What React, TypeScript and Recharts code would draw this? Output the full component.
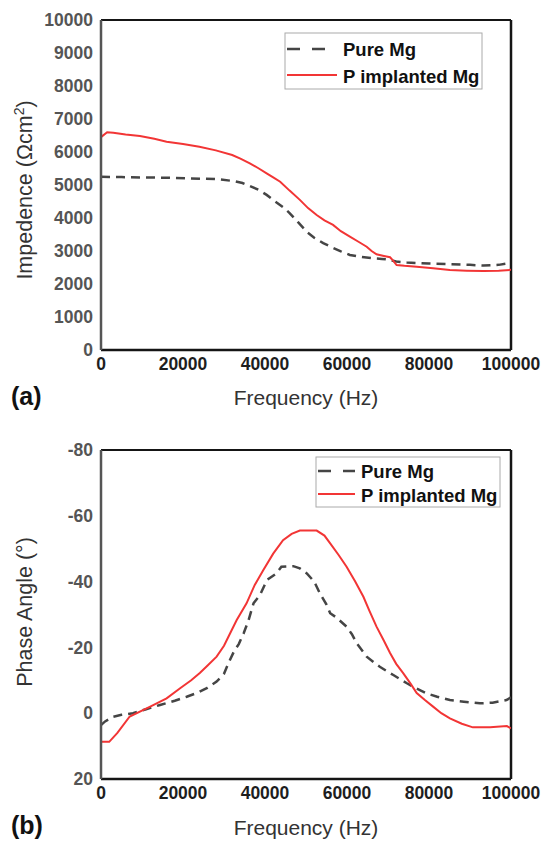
import React from 'react';
import { LineChart, Line, XAxis, YAxis, ReferenceLine } from 'recharts';

const FONT = "'Liberation Sans', Arial, sans-serif";
const RED = '#f23535';
const GRAY = '#454545';

const xTicks = [0, 20000, 40000, 60000, 80000, 100000];
const impTicks = [0, 1000, 2000, 3000, 4000, 5000, 6000, 7000, 8000, 9000, 10000];
const phaseTicks = [-80, -60, -40, -20, 0, 20];

const seriesNames = ['Pure Mg', 'P implanted Mg'];

// (a) Impedance vs frequency
const impFreqPure = [0, 5000, 10000, 16000, 22000, 28200, 32300, 34500, 36300, 38500, 40400, 42500, 44400, 46000, 48000, 50200, 52000, 54200, 56500, 58500, 60700, 63500, 66300, 68500, 70000, 72000, 74600, 80000, 85100, 90000, 93300, 97000, 100000];
const impPure = [5250, 5240, 5230, 5220, 5200, 5180, 5120, 5060, 4970, 4850, 4700, 4500, 4330, 4150, 3880, 3580, 3400, 3240, 3100, 2990, 2880, 2820, 2780, 2760, 2740, 2680, 2650, 2620, 2600, 2580, 2560, 2580, 2640];

const impFreqImpl = [0, 1500, 3000, 6000, 9500, 13000, 16000, 20000, 24000, 28000, 32000, 34000, 36300, 38500, 40400, 42000, 43700, 46000, 48500, 50500, 52600, 54500, 56600, 58500, 60700, 62800, 64800, 66000, 67200, 69000, 70500, 71300, 72100, 74000, 77000, 81000, 85100, 89200, 93300, 97000, 100000];
const impImpl = [6450, 6600, 6580, 6530, 6485, 6400, 6313, 6240, 6160, 6050, 5910, 5800, 5657, 5500, 5354, 5230, 5100, 4830, 4550, 4300, 4090, 3930, 3790, 3600, 3435, 3280, 3130, 3000, 2900, 2850, 2810, 2700, 2575, 2550, 2525, 2475, 2424, 2405, 2394, 2400, 2430];

// (b) Phase angle vs frequency
const phFreqPure = [0, 1000, 3000, 5000, 7800, 11000, 14400, 18000, 20900, 23500, 25800, 28200, 30000, 31000, 32400, 33600, 34800, 36000, 37200, 38800, 40500, 42800, 44000, 46900, 48500, 50200, 52000, 53400, 55000, 55900, 57500, 59900, 61200, 62400, 64800, 66500, 68000, 71300, 74600, 77000, 79500, 82000, 85100, 88500, 92400, 95500, 98900, 100000];
const phPure = [3.6, 2.5, 1.1, 0.5, 0, -1.2, -2.5, -3.8, -5, -6.2, -7.6, -9.6, -12, -15, -18.7, -21, -24.3, -28.3, -33.4, -36, -40.5, -42.5, -44.5, -44.7, -44, -42.5, -40, -36.4, -33, -30.4, -29, -26.3, -24, -21.2, -17.2, -15.5, -14.1, -11.6, -9.1, -7.5, -6, -5, -4, -3.5, -3, -3.2, -4, -4.8];

const phFreqImpl = [0, 2000, 4000, 7000, 12000, 16000, 19300, 22000, 24100, 26000, 28200, 30000, 31500, 33100, 35500, 37500, 39600, 42000, 44400, 46500, 48500, 52600, 54500, 55900, 58000, 59900, 62000, 64000, 65500, 67200, 69000, 70500, 72000, 73700, 75500, 77000, 79000, 81000, 83000, 85100, 88000, 90700, 94900, 99000, 100000];
const phImpl = [8.7, 8.7, 6, 1, -2, -4.5, -7.6, -10, -12.2, -14.5, -17.2, -20.5, -24.3, -28.3, -33.4, -39, -43.5, -48.5, -52.6, -54.5, -55.5, -55.5, -54, -51.6, -48, -44.5, -40, -35.4, -31, -26.3, -22, -18.3, -15, -12.2, -9, -6.1, -4, -2, 0, 1.6, 3.2, 4.3, 4.3, 3.9, 4.6];

const zip = (xs: number[], ys: number[]) => xs.map((f, i) => ({ f, v: ys[i] }));

const yTickStyle = { fontFamily: FONT, fontSize: 17.5, fontWeight: 700, fill: '#555' };
const xTickStyle = { fontFamily: FONT, fontSize: 17.5, fontWeight: 700, fill: '#1e1e1e' };

function LegendBox({ x, y, w, h, row1, row2, lineW }: { x: number; y: number; w: number; h: number; row1: number; row2: number; lineW: number }) {
  return (
    <g>
      <rect x={x} y={y} width={w} height={h} fill="#fff" stroke="#aaa" strokeWidth={1} />
      <line x1={x + 2} x2={x + 2 + lineW} y1={row1 - 7} y2={row1 - 7} stroke={GRAY} strokeWidth={2.5} strokeDasharray="13 12" />
      <text x={x + 2 + lineW + 6} y={row1} fontFamily={FONT} fontSize={18.5} fontWeight={700} fill="#111">{seriesNames[0]}</text>
      <line x1={x + 2} x2={x + 2 + lineW} y1={row2 - 8} y2={row2 - 8} stroke={RED} strokeWidth={2} />
      <text x={x + 2 + lineW + 6} y={row2} fontFamily={FONT} fontSize={18.5} fontWeight={700} fill="#111">{seriesNames[1]}</text>
    </g>
  );
}

export default function App() {
  return (
    <div style={{ position: 'absolute', left: 0, top: 0, width: 543, height: 841, background: '#fff' }}>
      <div style={{ position: 'absolute', left: 0, top: 0 }}>
        <LineChart width={543} height={420} margin={{ top: 20, right: 32, bottom: 40, left: 0 }}>
          <XAxis dataKey="f" type="number" domain={[0, 100000]} ticks={xTicks} interval={0} tickLine={false}
            axisLine={{ stroke: '#151515', strokeWidth: 2.5 }} tick={xTickStyle} height={30} allowDataOverflow />
          <YAxis type="number" domain={[0, 10000]} ticks={impTicks} interval={0} tickLine={false}
            axisLine={{ stroke: '#555', strokeWidth: 2.5 }} tick={yTickStyle} width={101} allowDataOverflow />
          <ReferenceLine y={10000} stroke="#151515" strokeWidth={2} />
          <ReferenceLine x={100000} stroke="#151515" strokeWidth={2.5} />
          <Line data={zip(impFreqPure, impPure)} dataKey="v" type="linear" stroke={GRAY} strokeWidth={2.5}
            strokeDasharray="9 6" dot={false} isAnimationActive={false} name={seriesNames[0]} />
          <Line data={zip(impFreqImpl, impImpl)} dataKey="v" type="linear" stroke={RED} strokeWidth={2}
            dot={false} isAnimationActive={false} name={seriesNames[1]} />
        </LineChart>
      </div>
      <div style={{ position: 'absolute', left: 0, top: 430 }}>
        <LineChart width={543} height={411} margin={{ top: 20, right: 32, bottom: 32, left: 0 }}>
          <XAxis dataKey="f" type="number" domain={[0, 100000]} ticks={xTicks} interval={0} tickLine={false}
            axisLine={{ stroke: '#151515', strokeWidth: 2.5 }} tick={xTickStyle} height={30} allowDataOverflow />
          <YAxis type="number" domain={[-80, 20]} reversed ticks={phaseTicks} interval={0} tickLine={false}
            axisLine={{ stroke: '#555', strokeWidth: 2.5 }} tick={yTickStyle} width={101} allowDataOverflow />
          <ReferenceLine y={-80} stroke="#151515" strokeWidth={2} />
          <ReferenceLine x={100000} stroke="#151515" strokeWidth={2.5} />
          <Line data={zip(phFreqPure, phPure)} dataKey="v" type="linear" stroke={GRAY} strokeWidth={2.5}
            strokeDasharray="9 6" dot={false} isAnimationActive={false} name={seriesNames[0]} />
          <Line data={zip(phFreqImpl, phImpl)} dataKey="v" type="linear" stroke={RED} strokeWidth={2}
            dot={false} isAnimationActive={false} name={seriesNames[1]} />
        </LineChart>
      </div>
      <svg width={543} height={841} style={{ position: 'absolute', left: 0, top: 0, pointerEvents: 'none' }}>
        <LegendBox x={285} y={33} w={197} h={56} row1={56} row2={83} lineW={50} />
        <LegendBox x={316} y={457} w={184} h={50} row1={478} row2={502} lineW={37} />

        <text transform="translate(32,190) rotate(-90)" textAnchor="middle" fontFamily={FONT} fontSize={21.5} fill="#333">
          Impedence (Ωcm<tspan dy={-8} fontSize={14}>2</tspan><tspan dy={8}>)</tspan>
        </text>
        <text x={306} y={405} textAnchor="middle" fontFamily={FONT} fontSize={21} fill="#333">Frequency (Hz)</text>
        <text x={11} y={405} fontFamily={FONT} fontSize={25} fontWeight={700} fill="#111">(a)</text>

        <text transform="translate(32,612) rotate(-90)" textAnchor="middle" fontFamily={FONT} fontSize={21.5} fill="#333">Phase Angle (°)</text>
        <text x={306} y={835} textAnchor="middle" fontFamily={FONT} fontSize={21} fill="#333">Frequency (Hz)</text>
        <text x={11} y={834} fontFamily={FONT} fontSize={25} fontWeight={700} fill="#111">(b)</text>
      </svg>
    </div>
  );
}
